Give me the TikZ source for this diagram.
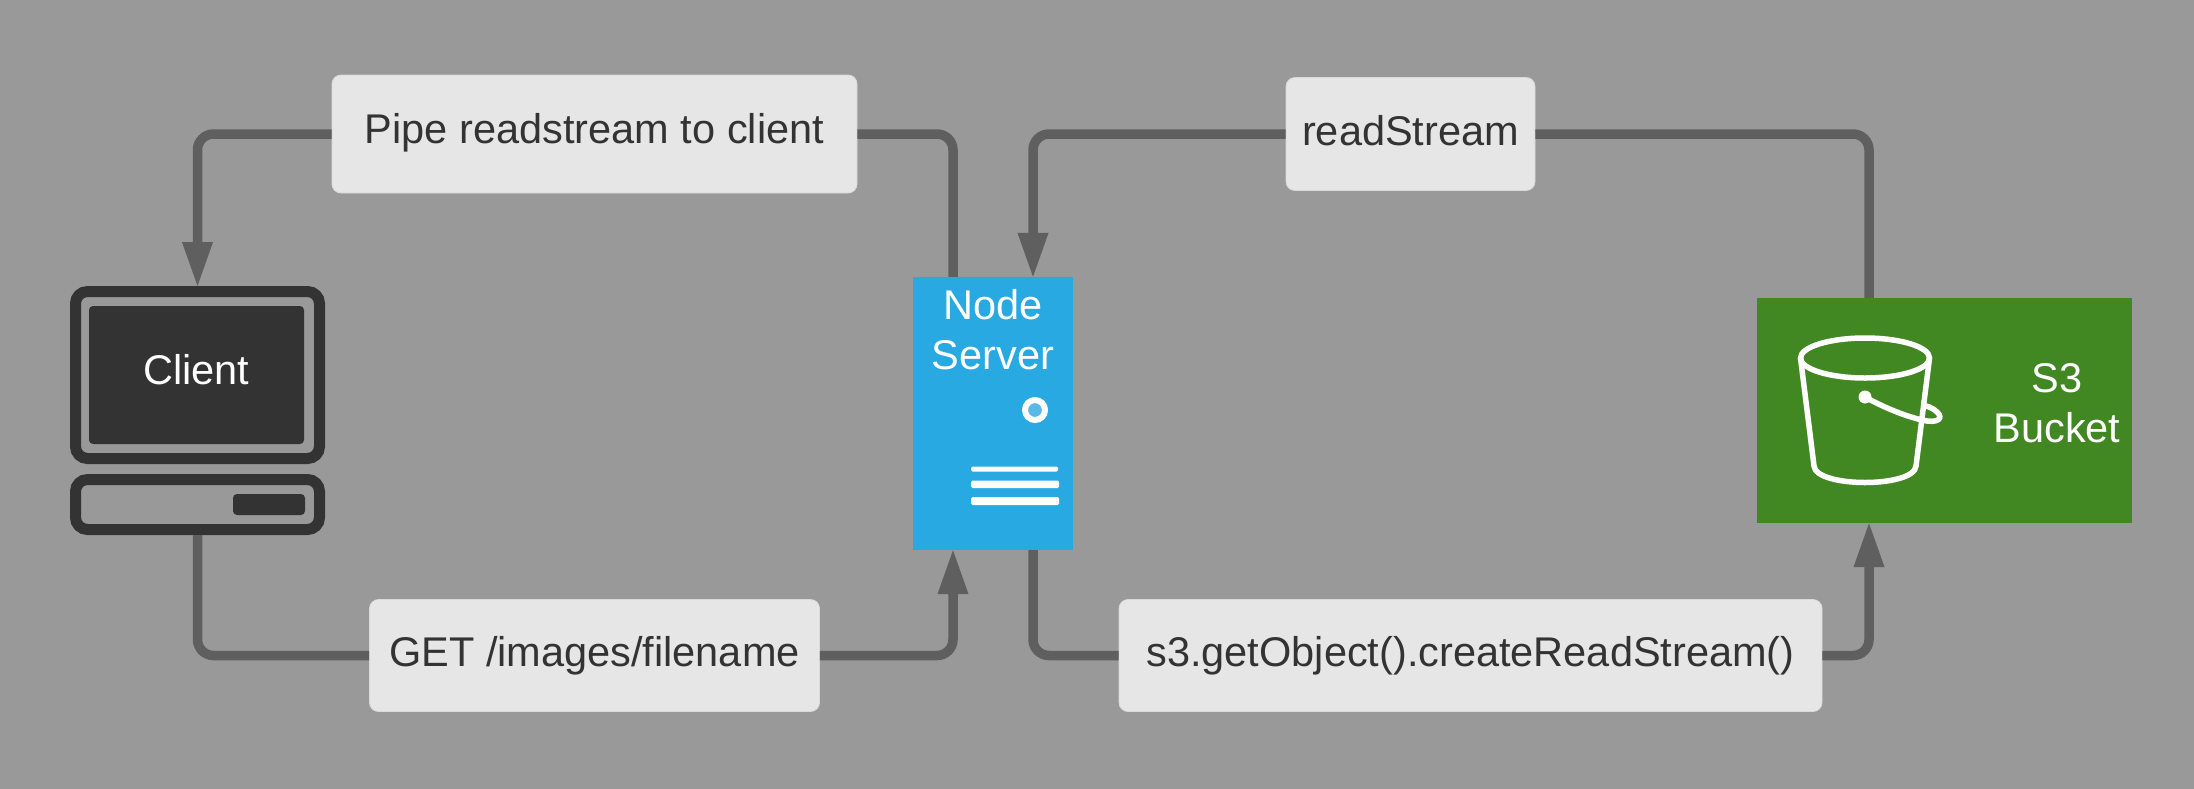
\documentclass[tikz,border=0pt]{standalone}
\usepackage{fontspec}
\setmainfont{Liberation Sans}
\usetikzlibrary{arrows.meta}
\definecolor{bggray}{HTML}{999999}
\definecolor{linegray}{HTML}{5F5F5F}
\definecolor{boxgray}{HTML}{E6E6E6}
\definecolor{darkgray}{HTML}{333333}
\definecolor{serverblue}{HTML}{29A9E1}
\definecolor{ledblue}{HTML}{5CB8E6}
\definecolor{bucketgreen}{HTML}{418722}
\tikzset{
    stepbox/.style={fill=boxgray, draw=boxgray!85!bggray, line width=0.8pt, rounded corners=9pt, text=darkgray, inner sep=0pt},
    flow/.style={draw=linegray, line width=9.5pt, rounded corners=16pt},
    flowtip/.style={flow, shorten >=-2pt, arrows={-Triangle[width=28pt,length=46pt]}},
    case/.style={draw=darkgray, line width=11pt, rounded corners=12pt, inner sep=0pt},
    whitetext/.style={text=white, align=center, inner sep=0pt},
    bucketline/.style={draw=white, line width=5.5pt, line join=round, line cap=round}
}
\begin{document}
\begin{tikzpicture}[x=1pt, y=-1pt, font=\fontsize{41.5}{50}\selectfont]

    % --- Fondo ---
    \useasboundingbox (0,0) rectangle (2194,788);
    \fill[bggray] (-3,-3) rectangle (2197,791);

    % --- Client ---
    \node[case, minimum width=244pt, minimum height=167pt] (monitor) at (197.5,375) {};
    \node[fill=darkgray, rounded corners=4pt, minimum width=215pt, minimum height=138pt, whitetext] (screen) at (196.5,375) {\raisebox{11pt}{Client}};
    \node[case, minimum width=244pt, minimum height=50pt] (base) at (197.5,504.5) {};
    \node[fill=darkgray, rounded corners=4pt, minimum width=72pt, minimum height=21pt, inner sep=0pt] (slot) at (269,504.5) {};

    % --- Node Server ---
    \node[fill=serverblue, minimum width=160pt, minimum height=273pt, inner sep=0pt] (server) at (993,413.5) {};
    \node[whitetext] (servertext) at (993,330) {Node\\Server};
    \node[circle, draw=white, fill=ledblue, line width=6pt, minimum size=20pt, inner sep=0pt] (led) at (1035,410) {};
    \fill[white, rounded corners=1.5pt] (971,466.5) rectangle (1058,471.5);
    \fill[white, rounded corners=1.5pt] (971,480.5) rectangle (1059,488);
    \fill[white, rounded corners=1.5pt] (971,497) rectangle (1059,505);

    % --- S3 Bucket ---
    \node[fill=bucketgreen, minimum width=375pt, minimum height=225pt, inner sep=0pt] (bucket) at (1944.5,410.5) {};
    \node[whitetext] (buckettext) at (2057,403) {S3\\Bucket};
    \draw[bucketline] (1865,358) ellipse (64.5 and 20);
    \draw[bucketline] (1800.5,358) -- (1814,466) .. controls (1816,488) and (1914,488) .. (1916,466) -- (1929.5,358);
    \draw[bucketline] (1865,397) .. controls (1885,408) and (1905,416) .. (1922,420) .. controls (1938,424) and (1944,418) .. (1937,412) .. controls (1934,409) and (1930,407) .. (1926,406);
    \fill[white] (1865,397) circle (6.5);

    % --- Etiquetas ---
    \node[stepbox, minimum width=525pt, minimum height=118pt] (pipebox) at (594.5,134) {\raisebox{11pt}{Pipe readstream to client}};
    \node[stepbox, minimum width=249pt, minimum height=113pt] (readbox) at (1410.5,134) {\raisebox{7pt}{readStream}};
    \node[stepbox, minimum width=450pt, minimum height=112pt] (getbox) at (594.5,655.5) {\raisebox{3pt}{GET /images/filename}};
    \node[stepbox, minimum width=703pt, minimum height=112pt] (s3box) at (1470.5,655.5) {\raisebox{3pt}{s3.getObject().createReadStream()}};

    % --- Conexiones ---
    \draw[flowtip] (pipebox.west) -| (monitor.north);
    \draw[flow] (pipebox.east) -| ([xshift=-40pt]server.north);
    \draw[flowtip] (readbox.west) -| ([xshift=40pt]server.north);
    \draw[flow] (readbox.east) -| ([xshift=-75.5pt]bucket.north);
    \draw[flow] (base.south) |- (getbox.west);
    \draw[flowtip] (getbox.east) -| ([xshift=-40pt]server.south);
    \draw[flow] ([xshift=40pt]server.south) |- (s3box.west);
    \draw[flowtip] (s3box.east) -| ([xshift=-75.5pt]bucket.south);

\end{tikzpicture}
\end{document}
